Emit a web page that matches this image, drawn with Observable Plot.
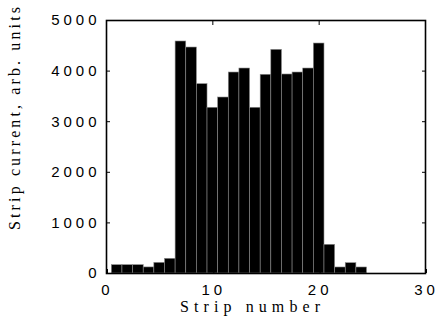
<!DOCTYPE html>
<html>
<head>
<meta charset="utf-8">
<script src="https://cdn.jsdelivr.net/npm/d3@7"></script>
<script src="https://cdn.jsdelivr.net/npm/@observablehq/plot@0.6"></script>
<style>
  html, body { margin: 0; padding: 0; background: #fff; }
  #chart svg [aria-label="y-axis tick label"] text,
  #chart svg [aria-label="x-axis tick label"] text { letter-spacing: 4px; }
</style>
</head>
<body>
<div id="chart"></div>
<script>
const strips = [1,2,3,4,5,6,7,8,9,10,11,12,13,14,15,16,17,18,19,20,21,22,23,24];
const current = [165,165,165,120,210,290,4585,4466,3742,3275,3478,3972,4051,3275,3927,4420,3933,3972,4051,4545,567,119,204,119];
const xTicks = [0,10,20,30];
const yTicks = [0,1000,2000,3000,4000,5000];
const xTitle = "Strip number";
const yTitle = "Strip current, arb. units";

const data = strips.map((s, i) => ({s, v: current[i]}));
const fmt = d => String(d);

const plot = Plot.plot({
  width: 438,
  height: 334,
  marginLeft: 106,
  marginRight: 13,
  marginTop: 20,
  marginBottom: 61,
  style: {fontFamily: "'Liberation Sans', Arial, sans-serif", background: "#fff", color: "#000"},
  x: {domain: [0, 30]},
  y: {domain: [0, 5000]},
  marks: [
    Plot.rectY(data, {x1: d => d.s - 0.5, x2: d => d.s + 0.5, y: "v", fill: "black", stroke: "#8a8a8a", strokeWidth: 0.6}),
    Plot.axisY(yTicks, {anchor: "left", tickSize: -4, tickPadding: 10, tickFormat: fmt, label: null, fontSize: 15}),
    Plot.axisY(yTicks, {anchor: "right", tickSize: -4, fill: "none", label: null}),
    Plot.axisX(xTicks, {anchor: "bottom", tickSize: -4, tickPadding: 15, dx: 1, tickFormat: fmt, label: null, fontSize: 15}),
    Plot.axisX(xTicks, {anchor: "top", tickSize: -4, fill: "none", label: null}),
    Plot.frame({stroke: "black", strokeWidth: 1.6})
  ]
});
document.getElementById("chart").appendChild(plot);

const svg = d3.select(plot);
svg.append("text")
  .attr("x", 250).attr("y", 312)
  .attr("text-anchor", "middle")
  .attr("font-family", "'Liberation Serif', 'Times New Roman', serif")
  .attr("font-size", 16)
  .attr("textLength", 140).attr("lengthAdjust", "spacing")
  .attr("fill", "#000")
  .text(xTitle);
svg.append("text")
  .attr("transform", "translate(20,118.5) rotate(-90)")
  .attr("text-anchor", "middle")
  .attr("font-family", "'Liberation Serif', 'Times New Roman', serif")
  .attr("font-size", 16)
  .attr("textLength", 223).attr("lengthAdjust", "spacing")
  .attr("fill", "#000")
  .text(yTitle);
</script>
</body>
</html>
